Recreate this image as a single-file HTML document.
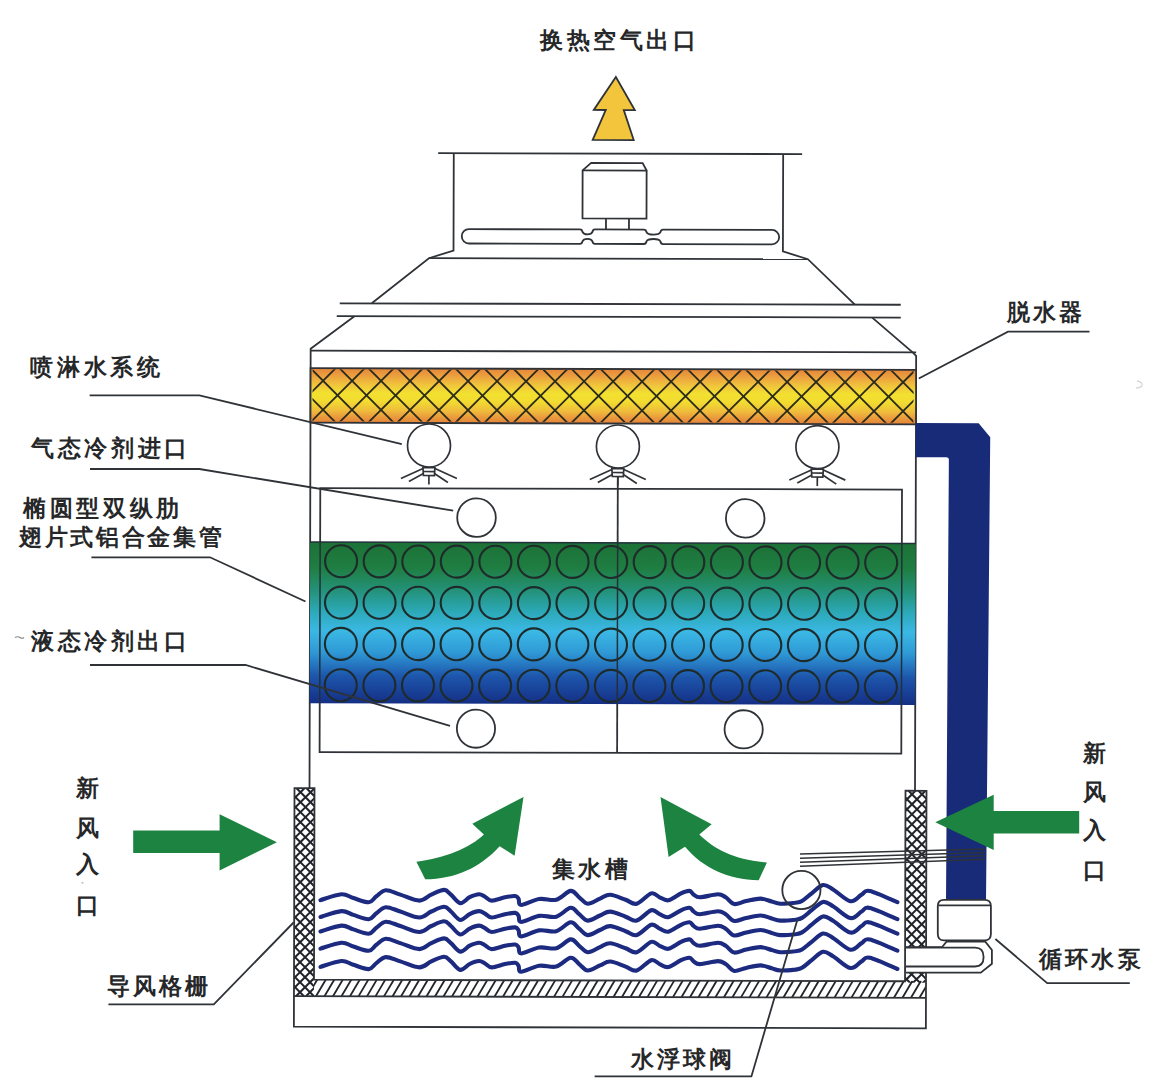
<!DOCTYPE html>
<html><head><meta charset="utf-8"><style>
html,body{margin:0;padding:0;background:#fff;}
svg{display:block;}
text{font-family:"Liberation Sans",sans-serif;}
</style></head><body>
<svg width="1173" height="1092" viewBox="0 0 1173 1092">
<rect width="1173" height="1092" fill="#fff"/>
<defs>
<linearGradient id="gy" x1="0" y1="0" x2="0" y2="1">
 <stop offset="0" stop-color="#e5873a"/>
 <stop offset="0.12" stop-color="#eb9c3e"/>
 <stop offset="0.3" stop-color="#f0c43c"/>
 <stop offset="0.45" stop-color="#f2e030"/>
 <stop offset="0.6" stop-color="#f2dc30"/>
 <stop offset="0.78" stop-color="#efbb3c"/>
 <stop offset="0.9" stop-color="#ea983c"/>
 <stop offset="1" stop-color="#e4843a"/>
</linearGradient>
<linearGradient id="gc" x1="0" y1="0" x2="0" y2="1">
 <stop offset="0" stop-color="#1c7136"/>
 <stop offset="0.16" stop-color="#1f7e42"/>
 <stop offset="0.3" stop-color="#24927a"/>
 <stop offset="0.43" stop-color="#2ca9b8"/>
 <stop offset="0.55" stop-color="#3bb8e4"/>
 <stop offset="0.68" stop-color="#2f9ad6"/>
 <stop offset="0.83" stop-color="#1d56ac"/>
 <stop offset="1" stop-color="#142f85"/>
</linearGradient>
<clipPath id="cyb"><rect x="312" y="370" width="601" height="52"/></clipPath>
<clipPath id="cgl"><rect x="295" y="789" width="20" height="208"/></clipPath>
<clipPath id="cgr"><rect x="906" y="790" width="21" height="192"/></clipPath>
<clipPath id="chb"><rect x="315" y="980" width="612" height="17"/></clipPath>
</defs>
<g transform="rotate(0.15 612 600)">
<polygon points="614.5,77 633.5,110 622.5,110 632.5,140 591.5,140 604.5,110 592.5,110" fill="#f2c53d" stroke="#2f3338" stroke-width="1.8" stroke-linejoin="miter"/>
<g fill="none" stroke="#2f3338" stroke-width="1.8">
<line x1="437" y1="153.6" x2="801" y2="153.6"/>
<polyline points="452.6,153.6 452.6,251 428,258.7 371,303.8"/><polyline points="353.7,316.9 310,349.5 310,789"/>
<polyline points="782,153.6 782,251 807,258.7 854.1,304"/><polyline points="871.5,316.9 912,351.5 915.5,355 915.5,790"/>
<line x1="428" y1="258.7" x2="807" y2="258.7"/>
<line x1="339" y1="304" x2="900" y2="304"/>
<line x1="336" y1="316.8" x2="900" y2="316.8"/>
<line x1="310" y1="351.5" x2="915.5" y2="351.5"/>
<path d="M581.5,218.5 V170.5 L590,163 H641.5 L645.5,170.5 V218.5 Z"/>
<line x1="581.5" y1="170.5" x2="646" y2="170.5"/>
<line x1="605" y1="218.5" x2="605" y2="229"/><line x1="628" y1="218.5" x2="628" y2="229"/>
<path d="M468,229.5 H579 Q581,229.5 581.5,232 Q582.5,234.5 586.5,234.5 Q590.5,234.5 591.5,232 Q592,229.5 594,229.5 H643 Q645,229.5 645.5,232 Q646.5,234.5 652.5,234.5 Q658.5,234.5 659.5,232 Q660,229.5 662,229.5 H771 A7.2,7.2 0 0 1 771,243.9 H662 Q660,243.9 659.5,241.4 Q658.5,238.9 652.5,238.9 Q646.5,238.9 645.5,241.4 Q645,243.9 643,243.9 H594 Q592,243.9 591.5,241.4 Q590.5,238.9 586.5,238.9 Q582.5,238.9 581.5,241.4 Q581,243.9 579,243.9 H468 A7.2,7.2 0 0 1 468,229.5 Z"/>
</g>
<rect x="310" y="369" width="605.5" height="54.5" fill="url(#gy)"/>
<g clip-path="url(#cyb)" stroke="#2b2a1c" stroke-width="1.8">
<line x1="-560" y1="369" x2="-505" y2="424"/>
<line x1="-506" y1="369" x2="-561" y2="424"/>
<line x1="-531" y1="369" x2="-476" y2="424"/>
<line x1="-477" y1="369" x2="-532" y2="424"/>
<line x1="-502" y1="369" x2="-447" y2="424"/>
<line x1="-448" y1="369" x2="-503" y2="424"/>
<line x1="-473" y1="369" x2="-418" y2="424"/>
<line x1="-419" y1="369" x2="-474" y2="424"/>
<line x1="-444" y1="369" x2="-389" y2="424"/>
<line x1="-390" y1="369" x2="-445" y2="424"/>
<line x1="-415" y1="369" x2="-360" y2="424"/>
<line x1="-361" y1="369" x2="-416" y2="424"/>
<line x1="-386" y1="369" x2="-331" y2="424"/>
<line x1="-332" y1="369" x2="-387" y2="424"/>
<line x1="-357" y1="369" x2="-302" y2="424"/>
<line x1="-303" y1="369" x2="-358" y2="424"/>
<line x1="-328" y1="369" x2="-273" y2="424"/>
<line x1="-274" y1="369" x2="-329" y2="424"/>
<line x1="-299" y1="369" x2="-244" y2="424"/>
<line x1="-245" y1="369" x2="-300" y2="424"/>
<line x1="-270" y1="369" x2="-215" y2="424"/>
<line x1="-216" y1="369" x2="-271" y2="424"/>
<line x1="-241" y1="369" x2="-186" y2="424"/>
<line x1="-187" y1="369" x2="-242" y2="424"/>
<line x1="-212" y1="369" x2="-157" y2="424"/>
<line x1="-158" y1="369" x2="-213" y2="424"/>
<line x1="-183" y1="369" x2="-128" y2="424"/>
<line x1="-129" y1="369" x2="-184" y2="424"/>
<line x1="-154" y1="369" x2="-99" y2="424"/>
<line x1="-100" y1="369" x2="-155" y2="424"/>
<line x1="-125" y1="369" x2="-70" y2="424"/>
<line x1="-71" y1="369" x2="-126" y2="424"/>
<line x1="-96" y1="369" x2="-41" y2="424"/>
<line x1="-42" y1="369" x2="-97" y2="424"/>
<line x1="-67" y1="369" x2="-12" y2="424"/>
<line x1="-13" y1="369" x2="-68" y2="424"/>
<line x1="-38" y1="369" x2="17" y2="424"/>
<line x1="16" y1="369" x2="-39" y2="424"/>
<line x1="-9" y1="369" x2="46" y2="424"/>
<line x1="45" y1="369" x2="-10" y2="424"/>
<line x1="20" y1="369" x2="75" y2="424"/>
<line x1="74" y1="369" x2="19" y2="424"/>
<line x1="49" y1="369" x2="104" y2="424"/>
<line x1="103" y1="369" x2="48" y2="424"/>
<line x1="78" y1="369" x2="133" y2="424"/>
<line x1="132" y1="369" x2="77" y2="424"/>
<line x1="107" y1="369" x2="162" y2="424"/>
<line x1="161" y1="369" x2="106" y2="424"/>
<line x1="136" y1="369" x2="191" y2="424"/>
<line x1="190" y1="369" x2="135" y2="424"/>
<line x1="165" y1="369" x2="220" y2="424"/>
<line x1="219" y1="369" x2="164" y2="424"/>
<line x1="194" y1="369" x2="249" y2="424"/>
<line x1="248" y1="369" x2="193" y2="424"/>
<line x1="223" y1="369" x2="278" y2="424"/>
<line x1="277" y1="369" x2="222" y2="424"/>
<line x1="252" y1="369" x2="307" y2="424"/>
<line x1="306" y1="369" x2="251" y2="424"/>
<line x1="281" y1="369" x2="336" y2="424"/>
<line x1="335" y1="369" x2="280" y2="424"/>
<line x1="310" y1="369" x2="365" y2="424"/>
<line x1="364" y1="369" x2="309" y2="424"/>
<line x1="339" y1="369" x2="394" y2="424"/>
<line x1="393" y1="369" x2="338" y2="424"/>
<line x1="368" y1="369" x2="423" y2="424"/>
<line x1="422" y1="369" x2="367" y2="424"/>
<line x1="397" y1="369" x2="452" y2="424"/>
<line x1="451" y1="369" x2="396" y2="424"/>
<line x1="426" y1="369" x2="481" y2="424"/>
<line x1="480" y1="369" x2="425" y2="424"/>
<line x1="455" y1="369" x2="510" y2="424"/>
<line x1="509" y1="369" x2="454" y2="424"/>
<line x1="484" y1="369" x2="539" y2="424"/>
<line x1="538" y1="369" x2="483" y2="424"/>
<line x1="513" y1="369" x2="568" y2="424"/>
<line x1="567" y1="369" x2="512" y2="424"/>
<line x1="542" y1="369" x2="597" y2="424"/>
<line x1="596" y1="369" x2="541" y2="424"/>
<line x1="571" y1="369" x2="626" y2="424"/>
<line x1="625" y1="369" x2="570" y2="424"/>
<line x1="600" y1="369" x2="655" y2="424"/>
<line x1="654" y1="369" x2="599" y2="424"/>
<line x1="629" y1="369" x2="684" y2="424"/>
<line x1="683" y1="369" x2="628" y2="424"/>
<line x1="658" y1="369" x2="713" y2="424"/>
<line x1="712" y1="369" x2="657" y2="424"/>
<line x1="687" y1="369" x2="742" y2="424"/>
<line x1="741" y1="369" x2="686" y2="424"/>
<line x1="716" y1="369" x2="771" y2="424"/>
<line x1="770" y1="369" x2="715" y2="424"/>
<line x1="745" y1="369" x2="800" y2="424"/>
<line x1="799" y1="369" x2="744" y2="424"/>
<line x1="774" y1="369" x2="829" y2="424"/>
<line x1="828" y1="369" x2="773" y2="424"/>
<line x1="803" y1="369" x2="858" y2="424"/>
<line x1="857" y1="369" x2="802" y2="424"/>
<line x1="832" y1="369" x2="887" y2="424"/>
<line x1="886" y1="369" x2="831" y2="424"/>
<line x1="861" y1="369" x2="916" y2="424"/>
<line x1="915" y1="369" x2="860" y2="424"/>
<line x1="890" y1="369" x2="945" y2="424"/>
<line x1="944" y1="369" x2="889" y2="424"/>
<line x1="919" y1="369" x2="974" y2="424"/>
<line x1="973" y1="369" x2="918" y2="424"/>
<line x1="948" y1="369" x2="1003" y2="424"/>
<line x1="1002" y1="369" x2="947" y2="424"/>
<line x1="977" y1="369" x2="1032" y2="424"/>
<line x1="1031" y1="369" x2="976" y2="424"/>
<line x1="1006" y1="369" x2="1061" y2="424"/>
<line x1="1060" y1="369" x2="1005" y2="424"/>
<line x1="1035" y1="369" x2="1090" y2="424"/>
<line x1="1089" y1="369" x2="1034" y2="424"/>
<line x1="1064" y1="369" x2="1119" y2="424"/>
<line x1="1118" y1="369" x2="1063" y2="424"/>
<line x1="1093" y1="369" x2="1148" y2="424"/>
<line x1="1147" y1="369" x2="1092" y2="424"/>
<line x1="1122" y1="369" x2="1177" y2="424"/>
<line x1="1176" y1="369" x2="1121" y2="424"/>
<line x1="1151" y1="369" x2="1206" y2="424"/>
<line x1="1205" y1="369" x2="1150" y2="424"/>
<line x1="1180" y1="369" x2="1235" y2="424"/>
<line x1="1234" y1="369" x2="1179" y2="424"/>
<line x1="1209" y1="369" x2="1264" y2="424"/>
<line x1="1263" y1="369" x2="1208" y2="424"/>
<line x1="1238" y1="369" x2="1293" y2="424"/>
<line x1="1292" y1="369" x2="1237" y2="424"/>
<line x1="1267" y1="369" x2="1322" y2="424"/>
<line x1="1321" y1="369" x2="1266" y2="424"/>
<line x1="1296" y1="369" x2="1351" y2="424"/>
<line x1="1350" y1="369" x2="1295" y2="424"/>
<line x1="1325" y1="369" x2="1380" y2="424"/>
<line x1="1379" y1="369" x2="1324" y2="424"/>
<line x1="1354" y1="369" x2="1409" y2="424"/>
<line x1="1408" y1="369" x2="1353" y2="424"/>
<line x1="1383" y1="369" x2="1438" y2="424"/>
<line x1="1437" y1="369" x2="1382" y2="424"/>
<line x1="1412" y1="369" x2="1467" y2="424"/>
<line x1="1466" y1="369" x2="1411" y2="424"/>
<line x1="1441" y1="369" x2="1496" y2="424"/>
<line x1="1495" y1="369" x2="1440" y2="424"/>
</g>
<rect x="310" y="369" width="605.5" height="54.5" fill="none" stroke="#2f3338" stroke-width="1.8"/>
<g fill="none" stroke="#2f3338" stroke-width="1.7"><circle cx="428.6" cy="446" r="21.5" fill="#fff"/><path d="M422.6,468 L434.6,468 L434.1,476 L423.1,476 Z"/><line x1="423.1" y1="472" x2="434.1" y2="472"/><line x1="422.6" y1="469" x2="400.6" y2="479"/><line x1="423.1" y1="474" x2="408.6" y2="482"/><line x1="434.6" y1="469" x2="456.6" y2="479"/><line x1="434.1" y1="474" x2="447.6" y2="483"/><line x1="428.6" y1="476" x2="428.6" y2="485"/></g>
<g fill="none" stroke="#2f3338" stroke-width="1.7"><circle cx="617.5" cy="446.5" r="21.5" fill="#fff"/><path d="M611.5,468.5 L623.5,468.5 L623.0,476.5 L612.0,476.5 Z"/><line x1="612.0" y1="472.5" x2="623.0" y2="472.5"/><line x1="611.5" y1="469.5" x2="589.5" y2="479.5"/><line x1="612.0" y1="474.5" x2="597.5" y2="482.5"/><line x1="623.5" y1="469.5" x2="645.5" y2="479.5"/><line x1="623.0" y1="474.5" x2="636.5" y2="483.5"/><line x1="617.5" y1="476.5" x2="617.5" y2="485.5"/></g>
<g fill="none" stroke="#2f3338" stroke-width="1.7"><circle cx="817" cy="446.5" r="21.5" fill="#fff"/><path d="M811,468.5 L823,468.5 L822.5,476.5 L811.5,476.5 Z"/><line x1="811.5" y1="472.5" x2="822.5" y2="472.5"/><line x1="811" y1="469.5" x2="789" y2="479.5"/><line x1="811.5" y1="474.5" x2="797" y2="482.5"/><line x1="823" y1="469.5" x2="845" y2="479.5"/><line x1="822.5" y1="474.5" x2="836" y2="483.5"/><line x1="817" y1="476.5" x2="817" y2="485.5"/></g>
<g fill="none" stroke="#2f3338" stroke-width="1.8">
<rect x="320" y="488.8" width="581.7" height="264"/>
<line x1="617.5" y1="476" x2="617.5" y2="752.8"/>
<circle cx="476.3" cy="518" r="19.3"/>
<circle cx="476.3" cy="729" r="19.1"/>
<circle cx="745" cy="518" r="19.3"/>
<circle cx="744" cy="729" r="19.1"/>
</g>
<rect x="310" y="542.8" width="605.5" height="161.3" fill="url(#gc)"/>
<g fill="none" stroke="#1e2b2a" stroke-width="2.1">
<circle cx="341.0" cy="562.0" r="16"/>
<circle cx="379.6" cy="562.0" r="16"/>
<circle cx="418.2" cy="562.0" r="16"/>
<circle cx="456.7" cy="562.0" r="16"/>
<circle cx="495.3" cy="562.0" r="16"/>
<circle cx="533.9" cy="562.0" r="16"/>
<circle cx="572.5" cy="562.0" r="16"/>
<circle cx="611.1" cy="562.0" r="16"/>
<circle cx="649.6" cy="562.0" r="16"/>
<circle cx="688.2" cy="562.0" r="16"/>
<circle cx="726.8" cy="562.0" r="16"/>
<circle cx="765.4" cy="562.0" r="16"/>
<circle cx="804.0" cy="562.0" r="16"/>
<circle cx="842.5" cy="562.0" r="16"/>
<circle cx="881.1" cy="562.0" r="16"/>
<circle cx="341.0" cy="603.3" r="16"/>
<circle cx="379.6" cy="603.3" r="16"/>
<circle cx="418.2" cy="603.3" r="16"/>
<circle cx="456.7" cy="603.3" r="16"/>
<circle cx="495.3" cy="603.3" r="16"/>
<circle cx="533.9" cy="603.3" r="16"/>
<circle cx="572.5" cy="603.3" r="16"/>
<circle cx="611.1" cy="603.3" r="16"/>
<circle cx="649.6" cy="603.3" r="16"/>
<circle cx="688.2" cy="603.3" r="16"/>
<circle cx="726.8" cy="603.3" r="16"/>
<circle cx="765.4" cy="603.3" r="16"/>
<circle cx="804.0" cy="603.3" r="16"/>
<circle cx="842.5" cy="603.3" r="16"/>
<circle cx="881.1" cy="603.3" r="16"/>
<circle cx="341.0" cy="644.6" r="16"/>
<circle cx="379.6" cy="644.6" r="16"/>
<circle cx="418.2" cy="644.6" r="16"/>
<circle cx="456.7" cy="644.6" r="16"/>
<circle cx="495.3" cy="644.6" r="16"/>
<circle cx="533.9" cy="644.6" r="16"/>
<circle cx="572.5" cy="644.6" r="16"/>
<circle cx="611.1" cy="644.6" r="16"/>
<circle cx="649.6" cy="644.6" r="16"/>
<circle cx="688.2" cy="644.6" r="16"/>
<circle cx="726.8" cy="644.6" r="16"/>
<circle cx="765.4" cy="644.6" r="16"/>
<circle cx="804.0" cy="644.6" r="16"/>
<circle cx="842.5" cy="644.6" r="16"/>
<circle cx="881.1" cy="644.6" r="16"/>
<circle cx="341.0" cy="685.9" r="16"/>
<circle cx="379.6" cy="685.9" r="16"/>
<circle cx="418.2" cy="685.9" r="16"/>
<circle cx="456.7" cy="685.9" r="16"/>
<circle cx="495.3" cy="685.9" r="16"/>
<circle cx="533.9" cy="685.9" r="16"/>
<circle cx="572.5" cy="685.9" r="16"/>
<circle cx="611.1" cy="685.9" r="16"/>
<circle cx="649.6" cy="685.9" r="16"/>
<circle cx="688.2" cy="685.9" r="16"/>
<circle cx="726.8" cy="685.9" r="16"/>
<circle cx="765.4" cy="685.9" r="16"/>
<circle cx="804.0" cy="685.9" r="16"/>
<circle cx="842.5" cy="685.9" r="16"/>
<circle cx="881.1" cy="685.9" r="16"/>
</g>
<g fill="none" stroke="#22303a" stroke-width="1.5">
<line x1="320" y1="542.8" x2="320" y2="704"/><line x1="901.7" y1="542.8" x2="901.7" y2="704"/><line x1="617.5" y1="542.8" x2="617.5" y2="704"/>
<line x1="310" y1="542.8" x2="915.5" y2="542.8"/>
</g>
<path d="M915.5,422.3 H978.2 L989.8,436.3 L986.8,899.3 H946.8 L948.5,459 Q948.5,456.4 945.9,456.4 H915.5 Z" fill="#172b78"/>
<rect x="295" y="789" width="20" height="208" fill="#fff"/>
<rect x="906" y="790" width="21" height="207" fill="#fff"/>
<g clip-path="url(#cgl)" stroke="#20242a" stroke-width="2.0"><line x1="-513" y1="789" x2="-305" y2="997"/><line x1="-305" y1="789" x2="-513" y2="997"/><line x1="-503" y1="789" x2="-295" y2="997"/><line x1="-295" y1="789" x2="-503" y2="997"/><line x1="-493" y1="789" x2="-285" y2="997"/><line x1="-285" y1="789" x2="-493" y2="997"/><line x1="-483" y1="789" x2="-275" y2="997"/><line x1="-275" y1="789" x2="-483" y2="997"/><line x1="-473" y1="789" x2="-265" y2="997"/><line x1="-265" y1="789" x2="-473" y2="997"/><line x1="-463" y1="789" x2="-255" y2="997"/><line x1="-255" y1="789" x2="-463" y2="997"/><line x1="-453" y1="789" x2="-245" y2="997"/><line x1="-245" y1="789" x2="-453" y2="997"/><line x1="-443" y1="789" x2="-235" y2="997"/><line x1="-235" y1="789" x2="-443" y2="997"/><line x1="-433" y1="789" x2="-225" y2="997"/><line x1="-225" y1="789" x2="-433" y2="997"/><line x1="-423" y1="789" x2="-215" y2="997"/><line x1="-215" y1="789" x2="-423" y2="997"/><line x1="-413" y1="789" x2="-205" y2="997"/><line x1="-205" y1="789" x2="-413" y2="997"/><line x1="-403" y1="789" x2="-195" y2="997"/><line x1="-195" y1="789" x2="-403" y2="997"/><line x1="-393" y1="789" x2="-185" y2="997"/><line x1="-185" y1="789" x2="-393" y2="997"/><line x1="-383" y1="789" x2="-175" y2="997"/><line x1="-175" y1="789" x2="-383" y2="997"/><line x1="-373" y1="789" x2="-165" y2="997"/><line x1="-165" y1="789" x2="-373" y2="997"/><line x1="-363" y1="789" x2="-155" y2="997"/><line x1="-155" y1="789" x2="-363" y2="997"/><line x1="-353" y1="789" x2="-145" y2="997"/><line x1="-145" y1="789" x2="-353" y2="997"/><line x1="-343" y1="789" x2="-135" y2="997"/><line x1="-135" y1="789" x2="-343" y2="997"/><line x1="-333" y1="789" x2="-125" y2="997"/><line x1="-125" y1="789" x2="-333" y2="997"/><line x1="-323" y1="789" x2="-115" y2="997"/><line x1="-115" y1="789" x2="-323" y2="997"/><line x1="-313" y1="789" x2="-105" y2="997"/><line x1="-105" y1="789" x2="-313" y2="997"/><line x1="-303" y1="789" x2="-95" y2="997"/><line x1="-95" y1="789" x2="-303" y2="997"/><line x1="-293" y1="789" x2="-85" y2="997"/><line x1="-85" y1="789" x2="-293" y2="997"/><line x1="-283" y1="789" x2="-75" y2="997"/><line x1="-75" y1="789" x2="-283" y2="997"/><line x1="-273" y1="789" x2="-65" y2="997"/><line x1="-65" y1="789" x2="-273" y2="997"/><line x1="-263" y1="789" x2="-55" y2="997"/><line x1="-55" y1="789" x2="-263" y2="997"/><line x1="-253" y1="789" x2="-45" y2="997"/><line x1="-45" y1="789" x2="-253" y2="997"/><line x1="-243" y1="789" x2="-35" y2="997"/><line x1="-35" y1="789" x2="-243" y2="997"/><line x1="-233" y1="789" x2="-25" y2="997"/><line x1="-25" y1="789" x2="-233" y2="997"/><line x1="-223" y1="789" x2="-15" y2="997"/><line x1="-15" y1="789" x2="-223" y2="997"/><line x1="-213" y1="789" x2="-5" y2="997"/><line x1="-5" y1="789" x2="-213" y2="997"/><line x1="-203" y1="789" x2="5" y2="997"/><line x1="5" y1="789" x2="-203" y2="997"/><line x1="-193" y1="789" x2="15" y2="997"/><line x1="15" y1="789" x2="-193" y2="997"/><line x1="-183" y1="789" x2="25" y2="997"/><line x1="25" y1="789" x2="-183" y2="997"/><line x1="-173" y1="789" x2="35" y2="997"/><line x1="35" y1="789" x2="-173" y2="997"/><line x1="-163" y1="789" x2="45" y2="997"/><line x1="45" y1="789" x2="-163" y2="997"/><line x1="-153" y1="789" x2="55" y2="997"/><line x1="55" y1="789" x2="-153" y2="997"/><line x1="-143" y1="789" x2="65" y2="997"/><line x1="65" y1="789" x2="-143" y2="997"/><line x1="-133" y1="789" x2="75" y2="997"/><line x1="75" y1="789" x2="-133" y2="997"/><line x1="-123" y1="789" x2="85" y2="997"/><line x1="85" y1="789" x2="-123" y2="997"/><line x1="-113" y1="789" x2="95" y2="997"/><line x1="95" y1="789" x2="-113" y2="997"/><line x1="-103" y1="789" x2="105" y2="997"/><line x1="105" y1="789" x2="-103" y2="997"/><line x1="-93" y1="789" x2="115" y2="997"/><line x1="115" y1="789" x2="-93" y2="997"/><line x1="-83" y1="789" x2="125" y2="997"/><line x1="125" y1="789" x2="-83" y2="997"/><line x1="-73" y1="789" x2="135" y2="997"/><line x1="135" y1="789" x2="-73" y2="997"/><line x1="-63" y1="789" x2="145" y2="997"/><line x1="145" y1="789" x2="-63" y2="997"/><line x1="-53" y1="789" x2="155" y2="997"/><line x1="155" y1="789" x2="-53" y2="997"/><line x1="-43" y1="789" x2="165" y2="997"/><line x1="165" y1="789" x2="-43" y2="997"/><line x1="-33" y1="789" x2="175" y2="997"/><line x1="175" y1="789" x2="-33" y2="997"/><line x1="-23" y1="789" x2="185" y2="997"/><line x1="185" y1="789" x2="-23" y2="997"/><line x1="-13" y1="789" x2="195" y2="997"/><line x1="195" y1="789" x2="-13" y2="997"/><line x1="-3" y1="789" x2="205" y2="997"/><line x1="205" y1="789" x2="-3" y2="997"/><line x1="7" y1="789" x2="215" y2="997"/><line x1="215" y1="789" x2="7" y2="997"/><line x1="17" y1="789" x2="225" y2="997"/><line x1="225" y1="789" x2="17" y2="997"/><line x1="27" y1="789" x2="235" y2="997"/><line x1="235" y1="789" x2="27" y2="997"/><line x1="37" y1="789" x2="245" y2="997"/><line x1="245" y1="789" x2="37" y2="997"/><line x1="47" y1="789" x2="255" y2="997"/><line x1="255" y1="789" x2="47" y2="997"/><line x1="57" y1="789" x2="265" y2="997"/><line x1="265" y1="789" x2="57" y2="997"/><line x1="67" y1="789" x2="275" y2="997"/><line x1="275" y1="789" x2="67" y2="997"/><line x1="77" y1="789" x2="285" y2="997"/><line x1="285" y1="789" x2="77" y2="997"/><line x1="87" y1="789" x2="295" y2="997"/><line x1="295" y1="789" x2="87" y2="997"/><line x1="97" y1="789" x2="305" y2="997"/><line x1="305" y1="789" x2="97" y2="997"/><line x1="107" y1="789" x2="315" y2="997"/><line x1="315" y1="789" x2="107" y2="997"/><line x1="117" y1="789" x2="325" y2="997"/><line x1="325" y1="789" x2="117" y2="997"/><line x1="127" y1="789" x2="335" y2="997"/><line x1="335" y1="789" x2="127" y2="997"/><line x1="137" y1="789" x2="345" y2="997"/><line x1="345" y1="789" x2="137" y2="997"/><line x1="147" y1="789" x2="355" y2="997"/><line x1="355" y1="789" x2="147" y2="997"/><line x1="157" y1="789" x2="365" y2="997"/><line x1="365" y1="789" x2="157" y2="997"/><line x1="167" y1="789" x2="375" y2="997"/><line x1="375" y1="789" x2="167" y2="997"/><line x1="177" y1="789" x2="385" y2="997"/><line x1="385" y1="789" x2="177" y2="997"/><line x1="187" y1="789" x2="395" y2="997"/><line x1="395" y1="789" x2="187" y2="997"/><line x1="197" y1="789" x2="405" y2="997"/><line x1="405" y1="789" x2="197" y2="997"/><line x1="207" y1="789" x2="415" y2="997"/><line x1="415" y1="789" x2="207" y2="997"/><line x1="217" y1="789" x2="425" y2="997"/><line x1="425" y1="789" x2="217" y2="997"/><line x1="227" y1="789" x2="435" y2="997"/><line x1="435" y1="789" x2="227" y2="997"/><line x1="237" y1="789" x2="445" y2="997"/><line x1="445" y1="789" x2="237" y2="997"/><line x1="247" y1="789" x2="455" y2="997"/><line x1="455" y1="789" x2="247" y2="997"/><line x1="257" y1="789" x2="465" y2="997"/><line x1="465" y1="789" x2="257" y2="997"/><line x1="267" y1="789" x2="475" y2="997"/><line x1="475" y1="789" x2="267" y2="997"/><line x1="277" y1="789" x2="485" y2="997"/><line x1="485" y1="789" x2="277" y2="997"/><line x1="287" y1="789" x2="495" y2="997"/><line x1="495" y1="789" x2="287" y2="997"/><line x1="297" y1="789" x2="505" y2="997"/><line x1="505" y1="789" x2="297" y2="997"/><line x1="307" y1="789" x2="515" y2="997"/><line x1="515" y1="789" x2="307" y2="997"/><line x1="317" y1="789" x2="525" y2="997"/><line x1="525" y1="789" x2="317" y2="997"/><line x1="327" y1="789" x2="535" y2="997"/><line x1="535" y1="789" x2="327" y2="997"/><line x1="337" y1="789" x2="545" y2="997"/><line x1="545" y1="789" x2="337" y2="997"/><line x1="347" y1="789" x2="555" y2="997"/><line x1="555" y1="789" x2="347" y2="997"/><line x1="357" y1="789" x2="565" y2="997"/><line x1="565" y1="789" x2="357" y2="997"/><line x1="367" y1="789" x2="575" y2="997"/><line x1="575" y1="789" x2="367" y2="997"/><line x1="377" y1="789" x2="585" y2="997"/><line x1="585" y1="789" x2="377" y2="997"/><line x1="387" y1="789" x2="595" y2="997"/><line x1="595" y1="789" x2="387" y2="997"/><line x1="397" y1="789" x2="605" y2="997"/><line x1="605" y1="789" x2="397" y2="997"/><line x1="407" y1="789" x2="615" y2="997"/><line x1="615" y1="789" x2="407" y2="997"/><line x1="417" y1="789" x2="625" y2="997"/><line x1="625" y1="789" x2="417" y2="997"/><line x1="427" y1="789" x2="635" y2="997"/><line x1="635" y1="789" x2="427" y2="997"/><line x1="437" y1="789" x2="645" y2="997"/><line x1="645" y1="789" x2="437" y2="997"/><line x1="447" y1="789" x2="655" y2="997"/><line x1="655" y1="789" x2="447" y2="997"/><line x1="457" y1="789" x2="665" y2="997"/><line x1="665" y1="789" x2="457" y2="997"/><line x1="467" y1="789" x2="675" y2="997"/><line x1="675" y1="789" x2="467" y2="997"/><line x1="477" y1="789" x2="685" y2="997"/><line x1="685" y1="789" x2="477" y2="997"/><line x1="487" y1="789" x2="695" y2="997"/><line x1="695" y1="789" x2="487" y2="997"/><line x1="497" y1="789" x2="705" y2="997"/><line x1="705" y1="789" x2="497" y2="997"/><line x1="507" y1="789" x2="715" y2="997"/><line x1="715" y1="789" x2="507" y2="997"/><line x1="517" y1="789" x2="725" y2="997"/><line x1="725" y1="789" x2="517" y2="997"/><line x1="527" y1="789" x2="735" y2="997"/><line x1="735" y1="789" x2="527" y2="997"/><line x1="537" y1="789" x2="745" y2="997"/><line x1="745" y1="789" x2="537" y2="997"/><line x1="547" y1="789" x2="755" y2="997"/><line x1="755" y1="789" x2="547" y2="997"/><line x1="557" y1="789" x2="765" y2="997"/><line x1="765" y1="789" x2="557" y2="997"/><line x1="567" y1="789" x2="775" y2="997"/><line x1="775" y1="789" x2="567" y2="997"/><line x1="577" y1="789" x2="785" y2="997"/><line x1="785" y1="789" x2="577" y2="997"/><line x1="587" y1="789" x2="795" y2="997"/><line x1="795" y1="789" x2="587" y2="997"/><line x1="597" y1="789" x2="805" y2="997"/><line x1="805" y1="789" x2="597" y2="997"/><line x1="607" y1="789" x2="815" y2="997"/><line x1="815" y1="789" x2="607" y2="997"/><line x1="617" y1="789" x2="825" y2="997"/><line x1="825" y1="789" x2="617" y2="997"/><line x1="627" y1="789" x2="835" y2="997"/><line x1="835" y1="789" x2="627" y2="997"/><line x1="637" y1="789" x2="845" y2="997"/><line x1="845" y1="789" x2="637" y2="997"/><line x1="647" y1="789" x2="855" y2="997"/><line x1="855" y1="789" x2="647" y2="997"/><line x1="657" y1="789" x2="865" y2="997"/><line x1="865" y1="789" x2="657" y2="997"/><line x1="667" y1="789" x2="875" y2="997"/><line x1="875" y1="789" x2="667" y2="997"/><line x1="677" y1="789" x2="885" y2="997"/><line x1="885" y1="789" x2="677" y2="997"/><line x1="687" y1="789" x2="895" y2="997"/><line x1="895" y1="789" x2="687" y2="997"/><line x1="697" y1="789" x2="905" y2="997"/><line x1="905" y1="789" x2="697" y2="997"/><line x1="707" y1="789" x2="915" y2="997"/><line x1="915" y1="789" x2="707" y2="997"/><line x1="717" y1="789" x2="925" y2="997"/><line x1="925" y1="789" x2="717" y2="997"/><line x1="727" y1="789" x2="935" y2="997"/><line x1="935" y1="789" x2="727" y2="997"/><line x1="737" y1="789" x2="945" y2="997"/><line x1="945" y1="789" x2="737" y2="997"/><line x1="747" y1="789" x2="955" y2="997"/><line x1="955" y1="789" x2="747" y2="997"/><line x1="757" y1="789" x2="965" y2="997"/><line x1="965" y1="789" x2="757" y2="997"/><line x1="767" y1="789" x2="975" y2="997"/><line x1="975" y1="789" x2="767" y2="997"/><line x1="777" y1="789" x2="985" y2="997"/><line x1="985" y1="789" x2="777" y2="997"/><line x1="787" y1="789" x2="995" y2="997"/><line x1="995" y1="789" x2="787" y2="997"/><line x1="797" y1="789" x2="1005" y2="997"/><line x1="1005" y1="789" x2="797" y2="997"/><line x1="807" y1="789" x2="1015" y2="997"/><line x1="1015" y1="789" x2="807" y2="997"/><line x1="817" y1="789" x2="1025" y2="997"/><line x1="1025" y1="789" x2="817" y2="997"/><line x1="827" y1="789" x2="1035" y2="997"/><line x1="1035" y1="789" x2="827" y2="997"/><line x1="837" y1="789" x2="1045" y2="997"/><line x1="1045" y1="789" x2="837" y2="997"/><line x1="847" y1="789" x2="1055" y2="997"/><line x1="1055" y1="789" x2="847" y2="997"/><line x1="857" y1="789" x2="1065" y2="997"/><line x1="1065" y1="789" x2="857" y2="997"/><line x1="867" y1="789" x2="1075" y2="997"/><line x1="1075" y1="789" x2="867" y2="997"/><line x1="877" y1="789" x2="1085" y2="997"/><line x1="1085" y1="789" x2="877" y2="997"/><line x1="887" y1="789" x2="1095" y2="997"/><line x1="1095" y1="789" x2="887" y2="997"/><line x1="897" y1="789" x2="1105" y2="997"/><line x1="1105" y1="789" x2="897" y2="997"/><line x1="907" y1="789" x2="1115" y2="997"/><line x1="1115" y1="789" x2="907" y2="997"/><line x1="917" y1="789" x2="1125" y2="997"/><line x1="1125" y1="789" x2="917" y2="997"/><line x1="927" y1="789" x2="1135" y2="997"/><line x1="1135" y1="789" x2="927" y2="997"/><line x1="937" y1="789" x2="1145" y2="997"/><line x1="1145" y1="789" x2="937" y2="997"/><line x1="947" y1="789" x2="1155" y2="997"/><line x1="1155" y1="789" x2="947" y2="997"/><line x1="957" y1="789" x2="1165" y2="997"/><line x1="1165" y1="789" x2="957" y2="997"/><line x1="967" y1="789" x2="1175" y2="997"/><line x1="1175" y1="789" x2="967" y2="997"/><line x1="977" y1="789" x2="1185" y2="997"/><line x1="1185" y1="789" x2="977" y2="997"/><line x1="987" y1="789" x2="1195" y2="997"/><line x1="1195" y1="789" x2="987" y2="997"/><line x1="997" y1="789" x2="1205" y2="997"/><line x1="1205" y1="789" x2="997" y2="997"/><line x1="1007" y1="789" x2="1215" y2="997"/><line x1="1215" y1="789" x2="1007" y2="997"/><line x1="1017" y1="789" x2="1225" y2="997"/><line x1="1225" y1="789" x2="1017" y2="997"/><line x1="1027" y1="789" x2="1235" y2="997"/><line x1="1235" y1="789" x2="1027" y2="997"/><line x1="1037" y1="789" x2="1245" y2="997"/><line x1="1245" y1="789" x2="1037" y2="997"/><line x1="1047" y1="789" x2="1255" y2="997"/><line x1="1255" y1="789" x2="1047" y2="997"/><line x1="1057" y1="789" x2="1265" y2="997"/><line x1="1265" y1="789" x2="1057" y2="997"/><line x1="1067" y1="789" x2="1275" y2="997"/><line x1="1275" y1="789" x2="1067" y2="997"/><line x1="1077" y1="789" x2="1285" y2="997"/><line x1="1285" y1="789" x2="1077" y2="997"/><line x1="1087" y1="789" x2="1295" y2="997"/><line x1="1295" y1="789" x2="1087" y2="997"/><line x1="1097" y1="789" x2="1305" y2="997"/><line x1="1305" y1="789" x2="1097" y2="997"/><line x1="1107" y1="789" x2="1315" y2="997"/><line x1="1315" y1="789" x2="1107" y2="997"/><line x1="1117" y1="789" x2="1325" y2="997"/><line x1="1325" y1="789" x2="1117" y2="997"/><line x1="1127" y1="789" x2="1335" y2="997"/><line x1="1335" y1="789" x2="1127" y2="997"/><line x1="1137" y1="789" x2="1345" y2="997"/><line x1="1345" y1="789" x2="1137" y2="997"/><line x1="1147" y1="789" x2="1355" y2="997"/><line x1="1355" y1="789" x2="1147" y2="997"/><line x1="1157" y1="789" x2="1365" y2="997"/><line x1="1365" y1="789" x2="1157" y2="997"/><line x1="1167" y1="789" x2="1375" y2="997"/><line x1="1375" y1="789" x2="1167" y2="997"/><line x1="1177" y1="789" x2="1385" y2="997"/><line x1="1385" y1="789" x2="1177" y2="997"/><line x1="1187" y1="789" x2="1395" y2="997"/><line x1="1395" y1="789" x2="1187" y2="997"/><line x1="1197" y1="789" x2="1405" y2="997"/><line x1="1405" y1="789" x2="1197" y2="997"/><line x1="1207" y1="789" x2="1415" y2="997"/><line x1="1415" y1="789" x2="1207" y2="997"/><line x1="1217" y1="789" x2="1425" y2="997"/><line x1="1425" y1="789" x2="1217" y2="997"/><line x1="1227" y1="789" x2="1435" y2="997"/><line x1="1435" y1="789" x2="1227" y2="997"/><line x1="1237" y1="789" x2="1445" y2="997"/><line x1="1445" y1="789" x2="1237" y2="997"/><line x1="1247" y1="789" x2="1455" y2="997"/><line x1="1455" y1="789" x2="1247" y2="997"/><line x1="1257" y1="789" x2="1465" y2="997"/><line x1="1465" y1="789" x2="1257" y2="997"/><line x1="1267" y1="789" x2="1475" y2="997"/><line x1="1475" y1="789" x2="1267" y2="997"/><line x1="1277" y1="789" x2="1485" y2="997"/><line x1="1485" y1="789" x2="1277" y2="997"/></g>
<g clip-path="url(#cgr)" stroke="#20242a" stroke-width="2.0"><line x1="99" y1="790" x2="306" y2="997"/><line x1="306" y1="790" x2="99" y2="997"/><line x1="109" y1="790" x2="316" y2="997"/><line x1="316" y1="790" x2="109" y2="997"/><line x1="119" y1="790" x2="326" y2="997"/><line x1="326" y1="790" x2="119" y2="997"/><line x1="129" y1="790" x2="336" y2="997"/><line x1="336" y1="790" x2="129" y2="997"/><line x1="139" y1="790" x2="346" y2="997"/><line x1="346" y1="790" x2="139" y2="997"/><line x1="149" y1="790" x2="356" y2="997"/><line x1="356" y1="790" x2="149" y2="997"/><line x1="159" y1="790" x2="366" y2="997"/><line x1="366" y1="790" x2="159" y2="997"/><line x1="169" y1="790" x2="376" y2="997"/><line x1="376" y1="790" x2="169" y2="997"/><line x1="179" y1="790" x2="386" y2="997"/><line x1="386" y1="790" x2="179" y2="997"/><line x1="189" y1="790" x2="396" y2="997"/><line x1="396" y1="790" x2="189" y2="997"/><line x1="199" y1="790" x2="406" y2="997"/><line x1="406" y1="790" x2="199" y2="997"/><line x1="209" y1="790" x2="416" y2="997"/><line x1="416" y1="790" x2="209" y2="997"/><line x1="219" y1="790" x2="426" y2="997"/><line x1="426" y1="790" x2="219" y2="997"/><line x1="229" y1="790" x2="436" y2="997"/><line x1="436" y1="790" x2="229" y2="997"/><line x1="239" y1="790" x2="446" y2="997"/><line x1="446" y1="790" x2="239" y2="997"/><line x1="249" y1="790" x2="456" y2="997"/><line x1="456" y1="790" x2="249" y2="997"/><line x1="259" y1="790" x2="466" y2="997"/><line x1="466" y1="790" x2="259" y2="997"/><line x1="269" y1="790" x2="476" y2="997"/><line x1="476" y1="790" x2="269" y2="997"/><line x1="279" y1="790" x2="486" y2="997"/><line x1="486" y1="790" x2="279" y2="997"/><line x1="289" y1="790" x2="496" y2="997"/><line x1="496" y1="790" x2="289" y2="997"/><line x1="299" y1="790" x2="506" y2="997"/><line x1="506" y1="790" x2="299" y2="997"/><line x1="309" y1="790" x2="516" y2="997"/><line x1="516" y1="790" x2="309" y2="997"/><line x1="319" y1="790" x2="526" y2="997"/><line x1="526" y1="790" x2="319" y2="997"/><line x1="329" y1="790" x2="536" y2="997"/><line x1="536" y1="790" x2="329" y2="997"/><line x1="339" y1="790" x2="546" y2="997"/><line x1="546" y1="790" x2="339" y2="997"/><line x1="349" y1="790" x2="556" y2="997"/><line x1="556" y1="790" x2="349" y2="997"/><line x1="359" y1="790" x2="566" y2="997"/><line x1="566" y1="790" x2="359" y2="997"/><line x1="369" y1="790" x2="576" y2="997"/><line x1="576" y1="790" x2="369" y2="997"/><line x1="379" y1="790" x2="586" y2="997"/><line x1="586" y1="790" x2="379" y2="997"/><line x1="389" y1="790" x2="596" y2="997"/><line x1="596" y1="790" x2="389" y2="997"/><line x1="399" y1="790" x2="606" y2="997"/><line x1="606" y1="790" x2="399" y2="997"/><line x1="409" y1="790" x2="616" y2="997"/><line x1="616" y1="790" x2="409" y2="997"/><line x1="419" y1="790" x2="626" y2="997"/><line x1="626" y1="790" x2="419" y2="997"/><line x1="429" y1="790" x2="636" y2="997"/><line x1="636" y1="790" x2="429" y2="997"/><line x1="439" y1="790" x2="646" y2="997"/><line x1="646" y1="790" x2="439" y2="997"/><line x1="449" y1="790" x2="656" y2="997"/><line x1="656" y1="790" x2="449" y2="997"/><line x1="459" y1="790" x2="666" y2="997"/><line x1="666" y1="790" x2="459" y2="997"/><line x1="469" y1="790" x2="676" y2="997"/><line x1="676" y1="790" x2="469" y2="997"/><line x1="479" y1="790" x2="686" y2="997"/><line x1="686" y1="790" x2="479" y2="997"/><line x1="489" y1="790" x2="696" y2="997"/><line x1="696" y1="790" x2="489" y2="997"/><line x1="499" y1="790" x2="706" y2="997"/><line x1="706" y1="790" x2="499" y2="997"/><line x1="509" y1="790" x2="716" y2="997"/><line x1="716" y1="790" x2="509" y2="997"/><line x1="519" y1="790" x2="726" y2="997"/><line x1="726" y1="790" x2="519" y2="997"/><line x1="529" y1="790" x2="736" y2="997"/><line x1="736" y1="790" x2="529" y2="997"/><line x1="539" y1="790" x2="746" y2="997"/><line x1="746" y1="790" x2="539" y2="997"/><line x1="549" y1="790" x2="756" y2="997"/><line x1="756" y1="790" x2="549" y2="997"/><line x1="559" y1="790" x2="766" y2="997"/><line x1="766" y1="790" x2="559" y2="997"/><line x1="569" y1="790" x2="776" y2="997"/><line x1="776" y1="790" x2="569" y2="997"/><line x1="579" y1="790" x2="786" y2="997"/><line x1="786" y1="790" x2="579" y2="997"/><line x1="589" y1="790" x2="796" y2="997"/><line x1="796" y1="790" x2="589" y2="997"/><line x1="599" y1="790" x2="806" y2="997"/><line x1="806" y1="790" x2="599" y2="997"/><line x1="609" y1="790" x2="816" y2="997"/><line x1="816" y1="790" x2="609" y2="997"/><line x1="619" y1="790" x2="826" y2="997"/><line x1="826" y1="790" x2="619" y2="997"/><line x1="629" y1="790" x2="836" y2="997"/><line x1="836" y1="790" x2="629" y2="997"/><line x1="639" y1="790" x2="846" y2="997"/><line x1="846" y1="790" x2="639" y2="997"/><line x1="649" y1="790" x2="856" y2="997"/><line x1="856" y1="790" x2="649" y2="997"/><line x1="659" y1="790" x2="866" y2="997"/><line x1="866" y1="790" x2="659" y2="997"/><line x1="669" y1="790" x2="876" y2="997"/><line x1="876" y1="790" x2="669" y2="997"/><line x1="679" y1="790" x2="886" y2="997"/><line x1="886" y1="790" x2="679" y2="997"/><line x1="689" y1="790" x2="896" y2="997"/><line x1="896" y1="790" x2="689" y2="997"/><line x1="699" y1="790" x2="906" y2="997"/><line x1="906" y1="790" x2="699" y2="997"/><line x1="709" y1="790" x2="916" y2="997"/><line x1="916" y1="790" x2="709" y2="997"/><line x1="719" y1="790" x2="926" y2="997"/><line x1="926" y1="790" x2="719" y2="997"/><line x1="729" y1="790" x2="936" y2="997"/><line x1="936" y1="790" x2="729" y2="997"/><line x1="739" y1="790" x2="946" y2="997"/><line x1="946" y1="790" x2="739" y2="997"/><line x1="749" y1="790" x2="956" y2="997"/><line x1="956" y1="790" x2="749" y2="997"/><line x1="759" y1="790" x2="966" y2="997"/><line x1="966" y1="790" x2="759" y2="997"/><line x1="769" y1="790" x2="976" y2="997"/><line x1="976" y1="790" x2="769" y2="997"/><line x1="779" y1="790" x2="986" y2="997"/><line x1="986" y1="790" x2="779" y2="997"/><line x1="789" y1="790" x2="996" y2="997"/><line x1="996" y1="790" x2="789" y2="997"/><line x1="799" y1="790" x2="1006" y2="997"/><line x1="1006" y1="790" x2="799" y2="997"/><line x1="809" y1="790" x2="1016" y2="997"/><line x1="1016" y1="790" x2="809" y2="997"/><line x1="819" y1="790" x2="1026" y2="997"/><line x1="1026" y1="790" x2="819" y2="997"/><line x1="829" y1="790" x2="1036" y2="997"/><line x1="1036" y1="790" x2="829" y2="997"/><line x1="839" y1="790" x2="1046" y2="997"/><line x1="1046" y1="790" x2="839" y2="997"/><line x1="849" y1="790" x2="1056" y2="997"/><line x1="1056" y1="790" x2="849" y2="997"/><line x1="859" y1="790" x2="1066" y2="997"/><line x1="1066" y1="790" x2="859" y2="997"/><line x1="869" y1="790" x2="1076" y2="997"/><line x1="1076" y1="790" x2="869" y2="997"/><line x1="879" y1="790" x2="1086" y2="997"/><line x1="1086" y1="790" x2="879" y2="997"/><line x1="889" y1="790" x2="1096" y2="997"/><line x1="1096" y1="790" x2="889" y2="997"/><line x1="899" y1="790" x2="1106" y2="997"/><line x1="1106" y1="790" x2="899" y2="997"/><line x1="909" y1="790" x2="1116" y2="997"/><line x1="1116" y1="790" x2="909" y2="997"/><line x1="919" y1="790" x2="1126" y2="997"/><line x1="1126" y1="790" x2="919" y2="997"/><line x1="929" y1="790" x2="1136" y2="997"/><line x1="1136" y1="790" x2="929" y2="997"/><line x1="939" y1="790" x2="1146" y2="997"/><line x1="1146" y1="790" x2="939" y2="997"/><line x1="949" y1="790" x2="1156" y2="997"/><line x1="1156" y1="790" x2="949" y2="997"/><line x1="959" y1="790" x2="1166" y2="997"/><line x1="1166" y1="790" x2="959" y2="997"/><line x1="969" y1="790" x2="1176" y2="997"/><line x1="1176" y1="790" x2="969" y2="997"/><line x1="979" y1="790" x2="1186" y2="997"/><line x1="1186" y1="790" x2="979" y2="997"/><line x1="989" y1="790" x2="1196" y2="997"/><line x1="1196" y1="790" x2="989" y2="997"/><line x1="999" y1="790" x2="1206" y2="997"/><line x1="1206" y1="790" x2="999" y2="997"/><line x1="1009" y1="790" x2="1216" y2="997"/><line x1="1216" y1="790" x2="1009" y2="997"/><line x1="1019" y1="790" x2="1226" y2="997"/><line x1="1226" y1="790" x2="1019" y2="997"/><line x1="1029" y1="790" x2="1236" y2="997"/><line x1="1236" y1="790" x2="1029" y2="997"/><line x1="1039" y1="790" x2="1246" y2="997"/><line x1="1246" y1="790" x2="1039" y2="997"/><line x1="1049" y1="790" x2="1256" y2="997"/><line x1="1256" y1="790" x2="1049" y2="997"/><line x1="1059" y1="790" x2="1266" y2="997"/><line x1="1266" y1="790" x2="1059" y2="997"/><line x1="1069" y1="790" x2="1276" y2="997"/><line x1="1276" y1="790" x2="1069" y2="997"/><line x1="1079" y1="790" x2="1286" y2="997"/><line x1="1286" y1="790" x2="1079" y2="997"/><line x1="1089" y1="790" x2="1296" y2="997"/><line x1="1296" y1="790" x2="1089" y2="997"/><line x1="1099" y1="790" x2="1306" y2="997"/><line x1="1306" y1="790" x2="1099" y2="997"/><line x1="1109" y1="790" x2="1316" y2="997"/><line x1="1316" y1="790" x2="1109" y2="997"/><line x1="1119" y1="790" x2="1326" y2="997"/><line x1="1326" y1="790" x2="1119" y2="997"/><line x1="1129" y1="790" x2="1336" y2="997"/><line x1="1336" y1="790" x2="1129" y2="997"/><line x1="1139" y1="790" x2="1346" y2="997"/><line x1="1346" y1="790" x2="1139" y2="997"/><line x1="1149" y1="790" x2="1356" y2="997"/><line x1="1356" y1="790" x2="1149" y2="997"/><line x1="1159" y1="790" x2="1366" y2="997"/><line x1="1366" y1="790" x2="1159" y2="997"/><line x1="1169" y1="790" x2="1376" y2="997"/><line x1="1376" y1="790" x2="1169" y2="997"/><line x1="1179" y1="790" x2="1386" y2="997"/><line x1="1386" y1="790" x2="1179" y2="997"/><line x1="1189" y1="790" x2="1396" y2="997"/><line x1="1396" y1="790" x2="1189" y2="997"/><line x1="1199" y1="790" x2="1406" y2="997"/><line x1="1406" y1="790" x2="1199" y2="997"/><line x1="1209" y1="790" x2="1416" y2="997"/><line x1="1416" y1="790" x2="1209" y2="997"/><line x1="1219" y1="790" x2="1426" y2="997"/><line x1="1426" y1="790" x2="1219" y2="997"/><line x1="1229" y1="790" x2="1436" y2="997"/><line x1="1436" y1="790" x2="1229" y2="997"/><line x1="1239" y1="790" x2="1446" y2="997"/><line x1="1446" y1="790" x2="1239" y2="997"/><line x1="1249" y1="790" x2="1456" y2="997"/><line x1="1456" y1="790" x2="1249" y2="997"/><line x1="1259" y1="790" x2="1466" y2="997"/><line x1="1466" y1="790" x2="1259" y2="997"/><line x1="1269" y1="790" x2="1476" y2="997"/><line x1="1476" y1="790" x2="1269" y2="997"/><line x1="1279" y1="790" x2="1486" y2="997"/><line x1="1486" y1="790" x2="1279" y2="997"/><line x1="1289" y1="790" x2="1496" y2="997"/><line x1="1496" y1="790" x2="1289" y2="997"/><line x1="1299" y1="790" x2="1506" y2="997"/><line x1="1506" y1="790" x2="1299" y2="997"/><line x1="1309" y1="790" x2="1516" y2="997"/><line x1="1516" y1="790" x2="1309" y2="997"/><line x1="1319" y1="790" x2="1526" y2="997"/><line x1="1526" y1="790" x2="1319" y2="997"/><line x1="1329" y1="790" x2="1536" y2="997"/><line x1="1536" y1="790" x2="1329" y2="997"/><line x1="1339" y1="790" x2="1546" y2="997"/><line x1="1546" y1="790" x2="1339" y2="997"/><line x1="1349" y1="790" x2="1556" y2="997"/><line x1="1556" y1="790" x2="1349" y2="997"/><line x1="1359" y1="790" x2="1566" y2="997"/><line x1="1566" y1="790" x2="1359" y2="997"/><line x1="1369" y1="790" x2="1576" y2="997"/><line x1="1576" y1="790" x2="1369" y2="997"/><line x1="1379" y1="790" x2="1586" y2="997"/><line x1="1586" y1="790" x2="1379" y2="997"/><line x1="1389" y1="790" x2="1596" y2="997"/><line x1="1596" y1="790" x2="1389" y2="997"/><line x1="1399" y1="790" x2="1606" y2="997"/><line x1="1606" y1="790" x2="1399" y2="997"/><line x1="1409" y1="790" x2="1616" y2="997"/><line x1="1616" y1="790" x2="1409" y2="997"/><line x1="1419" y1="790" x2="1626" y2="997"/><line x1="1626" y1="790" x2="1419" y2="997"/><line x1="1429" y1="790" x2="1636" y2="997"/><line x1="1636" y1="790" x2="1429" y2="997"/><line x1="1439" y1="790" x2="1646" y2="997"/><line x1="1646" y1="790" x2="1439" y2="997"/><line x1="1449" y1="790" x2="1656" y2="997"/><line x1="1656" y1="790" x2="1449" y2="997"/><line x1="1459" y1="790" x2="1666" y2="997"/><line x1="1666" y1="790" x2="1459" y2="997"/><line x1="1469" y1="790" x2="1676" y2="997"/><line x1="1676" y1="790" x2="1469" y2="997"/><line x1="1479" y1="790" x2="1686" y2="997"/><line x1="1686" y1="790" x2="1479" y2="997"/><line x1="1489" y1="790" x2="1696" y2="997"/><line x1="1696" y1="790" x2="1489" y2="997"/><line x1="1499" y1="790" x2="1706" y2="997"/><line x1="1706" y1="790" x2="1499" y2="997"/><line x1="1509" y1="790" x2="1716" y2="997"/><line x1="1716" y1="790" x2="1509" y2="997"/><line x1="1519" y1="790" x2="1726" y2="997"/><line x1="1726" y1="790" x2="1519" y2="997"/><line x1="1529" y1="790" x2="1736" y2="997"/><line x1="1736" y1="790" x2="1529" y2="997"/><line x1="1539" y1="790" x2="1746" y2="997"/><line x1="1746" y1="790" x2="1539" y2="997"/><line x1="1549" y1="790" x2="1756" y2="997"/><line x1="1756" y1="790" x2="1549" y2="997"/><line x1="1559" y1="790" x2="1766" y2="997"/><line x1="1766" y1="790" x2="1559" y2="997"/><line x1="1569" y1="790" x2="1776" y2="997"/><line x1="1776" y1="790" x2="1569" y2="997"/><line x1="1579" y1="790" x2="1786" y2="997"/><line x1="1786" y1="790" x2="1579" y2="997"/><line x1="1589" y1="790" x2="1796" y2="997"/><line x1="1796" y1="790" x2="1589" y2="997"/><line x1="1599" y1="790" x2="1806" y2="997"/><line x1="1806" y1="790" x2="1599" y2="997"/><line x1="1609" y1="790" x2="1816" y2="997"/><line x1="1816" y1="790" x2="1609" y2="997"/><line x1="1619" y1="790" x2="1826" y2="997"/><line x1="1826" y1="790" x2="1619" y2="997"/><line x1="1629" y1="790" x2="1836" y2="997"/><line x1="1836" y1="790" x2="1629" y2="997"/><line x1="1639" y1="790" x2="1846" y2="997"/><line x1="1846" y1="790" x2="1639" y2="997"/><line x1="1649" y1="790" x2="1856" y2="997"/><line x1="1856" y1="790" x2="1649" y2="997"/><line x1="1659" y1="790" x2="1866" y2="997"/><line x1="1866" y1="790" x2="1659" y2="997"/><line x1="1669" y1="790" x2="1876" y2="997"/><line x1="1876" y1="790" x2="1669" y2="997"/><line x1="1679" y1="790" x2="1886" y2="997"/><line x1="1886" y1="790" x2="1679" y2="997"/><line x1="1689" y1="790" x2="1896" y2="997"/><line x1="1896" y1="790" x2="1689" y2="997"/><line x1="1699" y1="790" x2="1906" y2="997"/><line x1="1906" y1="790" x2="1699" y2="997"/><line x1="1709" y1="790" x2="1916" y2="997"/><line x1="1916" y1="790" x2="1709" y2="997"/><line x1="1719" y1="790" x2="1926" y2="997"/><line x1="1926" y1="790" x2="1719" y2="997"/><line x1="1729" y1="790" x2="1936" y2="997"/><line x1="1936" y1="790" x2="1729" y2="997"/><line x1="1739" y1="790" x2="1946" y2="997"/><line x1="1946" y1="790" x2="1739" y2="997"/><line x1="1749" y1="790" x2="1956" y2="997"/><line x1="1956" y1="790" x2="1749" y2="997"/><line x1="1759" y1="790" x2="1966" y2="997"/><line x1="1966" y1="790" x2="1759" y2="997"/><line x1="1769" y1="790" x2="1976" y2="997"/><line x1="1976" y1="790" x2="1769" y2="997"/><line x1="1779" y1="790" x2="1986" y2="997"/><line x1="1986" y1="790" x2="1779" y2="997"/><line x1="1789" y1="790" x2="1996" y2="997"/><line x1="1996" y1="790" x2="1789" y2="997"/><line x1="1799" y1="790" x2="2006" y2="997"/><line x1="2006" y1="790" x2="1799" y2="997"/><line x1="1809" y1="790" x2="2016" y2="997"/><line x1="2016" y1="790" x2="1809" y2="997"/><line x1="1819" y1="790" x2="2026" y2="997"/><line x1="2026" y1="790" x2="1819" y2="997"/><line x1="1829" y1="790" x2="2036" y2="997"/><line x1="2036" y1="790" x2="1829" y2="997"/><line x1="1839" y1="790" x2="2046" y2="997"/><line x1="2046" y1="790" x2="1839" y2="997"/><line x1="1849" y1="790" x2="2056" y2="997"/><line x1="2056" y1="790" x2="1849" y2="997"/><line x1="1859" y1="790" x2="2066" y2="997"/><line x1="2066" y1="790" x2="1859" y2="997"/><line x1="1869" y1="790" x2="2076" y2="997"/><line x1="2076" y1="790" x2="1869" y2="997"/><line x1="1879" y1="790" x2="2086" y2="997"/><line x1="2086" y1="790" x2="1879" y2="997"/><line x1="1889" y1="790" x2="2096" y2="997"/><line x1="2096" y1="790" x2="1889" y2="997"/></g>
<g clip-path="url(#chb)" stroke="#20242a" stroke-width="1.8">
<line x1="300.0" y1="997" x2="310.0" y2="980"/>
<line x1="308.5" y1="997" x2="318.5" y2="980"/>
<line x1="317.0" y1="997" x2="327.0" y2="980"/>
<line x1="325.5" y1="997" x2="335.5" y2="980"/>
<line x1="334.0" y1="997" x2="344.0" y2="980"/>
<line x1="342.5" y1="997" x2="352.5" y2="980"/>
<line x1="351.0" y1="997" x2="361.0" y2="980"/>
<line x1="359.5" y1="997" x2="369.5" y2="980"/>
<line x1="368.0" y1="997" x2="378.0" y2="980"/>
<line x1="376.5" y1="997" x2="386.5" y2="980"/>
<line x1="385.0" y1="997" x2="395.0" y2="980"/>
<line x1="393.5" y1="997" x2="403.5" y2="980"/>
<line x1="402.0" y1="997" x2="412.0" y2="980"/>
<line x1="410.5" y1="997" x2="420.5" y2="980"/>
<line x1="419.0" y1="997" x2="429.0" y2="980"/>
<line x1="427.5" y1="997" x2="437.5" y2="980"/>
<line x1="436.0" y1="997" x2="446.0" y2="980"/>
<line x1="444.5" y1="997" x2="454.5" y2="980"/>
<line x1="453.0" y1="997" x2="463.0" y2="980"/>
<line x1="461.5" y1="997" x2="471.5" y2="980"/>
<line x1="470.0" y1="997" x2="480.0" y2="980"/>
<line x1="478.5" y1="997" x2="488.5" y2="980"/>
<line x1="487.0" y1="997" x2="497.0" y2="980"/>
<line x1="495.5" y1="997" x2="505.5" y2="980"/>
<line x1="504.0" y1="997" x2="514.0" y2="980"/>
<line x1="512.5" y1="997" x2="522.5" y2="980"/>
<line x1="521.0" y1="997" x2="531.0" y2="980"/>
<line x1="529.5" y1="997" x2="539.5" y2="980"/>
<line x1="538.0" y1="997" x2="548.0" y2="980"/>
<line x1="546.5" y1="997" x2="556.5" y2="980"/>
<line x1="555.0" y1="997" x2="565.0" y2="980"/>
<line x1="563.5" y1="997" x2="573.5" y2="980"/>
<line x1="572.0" y1="997" x2="582.0" y2="980"/>
<line x1="580.5" y1="997" x2="590.5" y2="980"/>
<line x1="589.0" y1="997" x2="599.0" y2="980"/>
<line x1="597.5" y1="997" x2="607.5" y2="980"/>
<line x1="606.0" y1="997" x2="616.0" y2="980"/>
<line x1="614.5" y1="997" x2="624.5" y2="980"/>
<line x1="623.0" y1="997" x2="633.0" y2="980"/>
<line x1="631.5" y1="997" x2="641.5" y2="980"/>
<line x1="640.0" y1="997" x2="650.0" y2="980"/>
<line x1="648.5" y1="997" x2="658.5" y2="980"/>
<line x1="657.0" y1="997" x2="667.0" y2="980"/>
<line x1="665.5" y1="997" x2="675.5" y2="980"/>
<line x1="674.0" y1="997" x2="684.0" y2="980"/>
<line x1="682.5" y1="997" x2="692.5" y2="980"/>
<line x1="691.0" y1="997" x2="701.0" y2="980"/>
<line x1="699.5" y1="997" x2="709.5" y2="980"/>
<line x1="708.0" y1="997" x2="718.0" y2="980"/>
<line x1="716.5" y1="997" x2="726.5" y2="980"/>
<line x1="725.0" y1="997" x2="735.0" y2="980"/>
<line x1="733.5" y1="997" x2="743.5" y2="980"/>
<line x1="742.0" y1="997" x2="752.0" y2="980"/>
<line x1="750.5" y1="997" x2="760.5" y2="980"/>
<line x1="759.0" y1="997" x2="769.0" y2="980"/>
<line x1="767.5" y1="997" x2="777.5" y2="980"/>
<line x1="776.0" y1="997" x2="786.0" y2="980"/>
<line x1="784.5" y1="997" x2="794.5" y2="980"/>
<line x1="793.0" y1="997" x2="803.0" y2="980"/>
<line x1="801.5" y1="997" x2="811.5" y2="980"/>
<line x1="810.0" y1="997" x2="820.0" y2="980"/>
<line x1="818.5" y1="997" x2="828.5" y2="980"/>
<line x1="827.0" y1="997" x2="837.0" y2="980"/>
<line x1="835.5" y1="997" x2="845.5" y2="980"/>
<line x1="844.0" y1="997" x2="854.0" y2="980"/>
<line x1="852.5" y1="997" x2="862.5" y2="980"/>
<line x1="861.0" y1="997" x2="871.0" y2="980"/>
<line x1="869.5" y1="997" x2="879.5" y2="980"/>
<line x1="878.0" y1="997" x2="888.0" y2="980"/>
<line x1="886.5" y1="997" x2="896.5" y2="980"/>
<line x1="895.0" y1="997" x2="905.0" y2="980"/>
<line x1="903.5" y1="997" x2="913.5" y2="980"/>
<line x1="912.0" y1="997" x2="922.0" y2="980"/>
<line x1="920.5" y1="997" x2="930.5" y2="980"/>
<line x1="929.0" y1="997" x2="939.0" y2="980"/>
<line x1="937.5" y1="997" x2="947.5" y2="980"/>
<line x1="946.0" y1="997" x2="956.0" y2="980"/>
<line x1="954.5" y1="997" x2="964.5" y2="980"/>
<line x1="963.0" y1="997" x2="973.0" y2="980"/>
<line x1="971.5" y1="997" x2="981.5" y2="980"/>
</g>
<g fill="none" stroke="#2f3338" stroke-width="1.8">
<path d="M295,789 H315 V980.5 H906 V790 H927 V1027.5 H295 Z"/>
<line x1="295" y1="997" x2="927" y2="997"/>
</g>
</g>
<g fill="none" stroke="#1c2a80" stroke-width="4.1" stroke-linecap="round" stroke-linejoin="round">
<path d="M320.5,900.1 C324.0,899.1 335.9,894.6 341.4,894.2 C346.9,893.9 348.8,896.6 353.4,898.0 C357.9,899.4 364.9,902.6 368.7,902.3 C372.5,902.0 373.5,898.3 376.4,896.3 C379.2,894.3 381.8,890.6 385.8,890.3 C389.8,890.0 394.7,892.9 400.3,894.6 C405.9,896.3 414.2,900.6 419.4,900.6 C424.6,900.6 427.2,896.4 431.3,894.6 C435.4,892.8 440.8,889.9 444.1,889.9 C447.4,889.9 448.2,892.4 450.9,894.6 C453.6,896.8 457.2,902.7 460.3,903.1 C463.4,903.5 466.6,898.7 469.7,897.2 C472.8,895.7 476.4,894.3 479.0,894.2 C481.6,894.1 482.9,895.6 485.0,896.7 C487.1,897.8 488.5,900.5 491.8,900.6 C495.1,900.7 501.1,898.1 505.0,897.3 C508.9,896.5 512.9,895.7 515.2,896.0 C517.5,896.3 517.6,897.5 518.6,899.0 C519.6,900.5 517.8,905.0 521.2,905.0 C524.6,905.0 533.3,899.9 539.1,899.0 C544.9,898.1 551.0,901.1 556.2,899.8 C561.5,898.4 566.8,891.3 570.6,890.9 C574.4,890.5 576.4,895.2 579.2,897.3 C582.1,899.4 584.2,903.5 587.7,903.7 C591.2,903.9 596.2,900.1 600.0,898.6 C603.8,897.1 605.9,894.5 610.2,894.7 C614.5,894.9 621.2,898.3 625.6,899.8 C630.0,901.3 632.4,904.8 636.7,903.7 C641.0,902.6 647.4,894.5 651.2,893.4 C655.0,892.3 656.9,896.1 659.7,897.3 C662.5,898.4 664.7,900.9 668.2,900.3 C671.8,899.6 677.5,895.0 681.0,893.4 C684.5,891.8 687.4,890.7 689.5,890.9 C691.6,891.1 692.0,893.6 693.8,894.7 C695.5,895.8 696.0,897.4 700.0,897.3 C704.0,897.2 713.7,894.3 718.0,894.3 C722.3,894.3 723.0,895.7 725.7,897.3 C728.4,898.9 730.8,903.5 734.2,904.1 C737.6,904.7 741.8,902.0 746.2,901.1 C750.6,900.2 756.4,898.5 760.6,898.6 C764.9,898.7 768.4,900.6 771.7,901.5 C775.0,902.4 776.4,903.5 780.3,903.7 C784.2,903.9 791.4,903.2 795.0,902.8 C798.6,902.3 799.2,902.6 802.0,901.0 C804.8,899.4 808.2,896.0 811.7,893.3 C815.2,890.6 819.5,885.6 823.0,885.0 C826.5,884.4 828.4,886.7 833.0,889.4 C837.6,892.1 845.6,900.3 850.4,901.2 C855.2,902.1 858.4,896.3 861.6,894.6 C864.8,892.9 863.8,889.7 869.8,891.0 C875.8,892.3 892.8,900.3 897.4,902.2" transform="translate(0 0)"/>
<path d="M320.5,900.1 C324.0,899.1 335.9,894.6 341.4,894.2 C346.9,893.9 348.8,896.6 353.4,898.0 C357.9,899.4 364.9,902.6 368.7,902.3 C372.5,902.0 373.5,898.3 376.4,896.3 C379.2,894.3 381.8,890.6 385.8,890.3 C389.8,890.0 394.7,892.9 400.3,894.6 C405.9,896.3 414.2,900.6 419.4,900.6 C424.6,900.6 427.2,896.4 431.3,894.6 C435.4,892.8 440.8,889.9 444.1,889.9 C447.4,889.9 448.2,892.4 450.9,894.6 C453.6,896.8 457.2,902.7 460.3,903.1 C463.4,903.5 466.6,898.7 469.7,897.2 C472.8,895.7 476.4,894.3 479.0,894.2 C481.6,894.1 482.9,895.6 485.0,896.7 C487.1,897.8 488.5,900.5 491.8,900.6 C495.1,900.7 501.1,898.1 505.0,897.3 C508.9,896.5 512.9,895.7 515.2,896.0 C517.5,896.3 517.6,897.5 518.6,899.0 C519.6,900.5 517.8,905.0 521.2,905.0 C524.6,905.0 533.3,899.9 539.1,899.0 C544.9,898.1 551.0,901.1 556.2,899.8 C561.5,898.4 566.8,891.3 570.6,890.9 C574.4,890.5 576.4,895.2 579.2,897.3 C582.1,899.4 584.2,903.5 587.7,903.7 C591.2,903.9 596.2,900.1 600.0,898.6 C603.8,897.1 605.9,894.5 610.2,894.7 C614.5,894.9 621.2,898.3 625.6,899.8 C630.0,901.3 632.4,904.8 636.7,903.7 C641.0,902.6 647.4,894.5 651.2,893.4 C655.0,892.3 656.9,896.1 659.7,897.3 C662.5,898.4 664.7,900.9 668.2,900.3 C671.8,899.6 677.5,895.0 681.0,893.4 C684.5,891.8 687.4,890.7 689.5,890.9 C691.6,891.1 692.0,893.6 693.8,894.7 C695.5,895.8 696.0,897.4 700.0,897.3 C704.0,897.2 713.7,894.3 718.0,894.3 C722.3,894.3 723.0,895.7 725.7,897.3 C728.4,898.9 730.8,903.5 734.2,904.1 C737.6,904.7 741.8,902.0 746.2,901.1 C750.6,900.2 756.4,898.5 760.6,898.6 C764.9,898.7 768.4,900.6 771.7,901.5 C775.0,902.4 776.4,903.5 780.3,903.7 C784.2,903.9 791.4,903.2 795.0,902.8 C798.6,902.3 799.2,902.6 802.0,901.0 C804.8,899.4 808.2,896.0 811.7,893.3 C815.2,890.6 819.5,885.6 823.0,885.0 C826.5,884.4 828.4,886.7 833.0,889.4 C837.6,892.1 845.6,900.3 850.4,901.2 C855.2,902.1 858.4,896.3 861.6,894.6 C864.8,892.9 863.8,889.7 869.8,891.0 C875.8,892.3 892.8,900.3 897.4,902.2" transform="translate(0 16.9)"/>
<path d="M320.5,900.1 C324.0,899.1 335.9,894.6 341.4,894.2 C346.9,893.9 348.8,896.6 353.4,898.0 C357.9,899.4 364.9,902.6 368.7,902.3 C372.5,902.0 373.5,898.3 376.4,896.3 C379.2,894.3 381.8,890.6 385.8,890.3 C389.8,890.0 394.7,892.9 400.3,894.6 C405.9,896.3 414.2,900.6 419.4,900.6 C424.6,900.6 427.2,896.4 431.3,894.6 C435.4,892.8 440.8,889.9 444.1,889.9 C447.4,889.9 448.2,892.4 450.9,894.6 C453.6,896.8 457.2,902.7 460.3,903.1 C463.4,903.5 466.6,898.7 469.7,897.2 C472.8,895.7 476.4,894.3 479.0,894.2 C481.6,894.1 482.9,895.6 485.0,896.7 C487.1,897.8 488.5,900.5 491.8,900.6 C495.1,900.7 501.1,898.1 505.0,897.3 C508.9,896.5 512.9,895.7 515.2,896.0 C517.5,896.3 517.6,897.5 518.6,899.0 C519.6,900.5 517.8,905.0 521.2,905.0 C524.6,905.0 533.3,899.9 539.1,899.0 C544.9,898.1 551.0,901.1 556.2,899.8 C561.5,898.4 566.8,891.3 570.6,890.9 C574.4,890.5 576.4,895.2 579.2,897.3 C582.1,899.4 584.2,903.5 587.7,903.7 C591.2,903.9 596.2,900.1 600.0,898.6 C603.8,897.1 605.9,894.5 610.2,894.7 C614.5,894.9 621.2,898.3 625.6,899.8 C630.0,901.3 632.4,904.8 636.7,903.7 C641.0,902.6 647.4,894.5 651.2,893.4 C655.0,892.3 656.9,896.1 659.7,897.3 C662.5,898.4 664.7,900.9 668.2,900.3 C671.8,899.6 677.5,895.0 681.0,893.4 C684.5,891.8 687.4,890.7 689.5,890.9 C691.6,891.1 692.0,893.6 693.8,894.7 C695.5,895.8 696.0,897.4 700.0,897.3 C704.0,897.2 713.7,894.3 718.0,894.3 C722.3,894.3 723.0,895.7 725.7,897.3 C728.4,898.9 730.8,903.5 734.2,904.1 C737.6,904.7 741.8,902.0 746.2,901.1 C750.6,900.2 756.4,898.5 760.6,898.6 C764.9,898.7 768.4,900.6 771.7,901.5 C775.0,902.4 776.4,903.5 780.3,903.7 C784.2,903.9 791.4,903.2 795.0,902.8 C798.6,902.3 799.2,902.6 802.0,901.0 C804.8,899.4 808.2,896.0 811.7,893.3 C815.2,890.6 819.5,885.6 823.0,885.0 C826.5,884.4 828.4,886.7 833.0,889.4 C837.6,892.1 845.6,900.3 850.4,901.2 C855.2,902.1 858.4,896.3 861.6,894.6 C864.8,892.9 863.8,889.7 869.8,891.0 C875.8,892.3 892.8,900.3 897.4,902.2" transform="translate(0 31.4)"/>
<path d="M320.5,900.1 C324.0,899.1 335.9,894.6 341.4,894.2 C346.9,893.9 348.8,896.6 353.4,898.0 C357.9,899.4 364.9,902.6 368.7,902.3 C372.5,902.0 373.5,898.3 376.4,896.3 C379.2,894.3 381.8,890.6 385.8,890.3 C389.8,890.0 394.7,892.9 400.3,894.6 C405.9,896.3 414.2,900.6 419.4,900.6 C424.6,900.6 427.2,896.4 431.3,894.6 C435.4,892.8 440.8,889.9 444.1,889.9 C447.4,889.9 448.2,892.4 450.9,894.6 C453.6,896.8 457.2,902.7 460.3,903.1 C463.4,903.5 466.6,898.7 469.7,897.2 C472.8,895.7 476.4,894.3 479.0,894.2 C481.6,894.1 482.9,895.6 485.0,896.7 C487.1,897.8 488.5,900.5 491.8,900.6 C495.1,900.7 501.1,898.1 505.0,897.3 C508.9,896.5 512.9,895.7 515.2,896.0 C517.5,896.3 517.6,897.5 518.6,899.0 C519.6,900.5 517.8,905.0 521.2,905.0 C524.6,905.0 533.3,899.9 539.1,899.0 C544.9,898.1 551.0,901.1 556.2,899.8 C561.5,898.4 566.8,891.3 570.6,890.9 C574.4,890.5 576.4,895.2 579.2,897.3 C582.1,899.4 584.2,903.5 587.7,903.7 C591.2,903.9 596.2,900.1 600.0,898.6 C603.8,897.1 605.9,894.5 610.2,894.7 C614.5,894.9 621.2,898.3 625.6,899.8 C630.0,901.3 632.4,904.8 636.7,903.7 C641.0,902.6 647.4,894.5 651.2,893.4 C655.0,892.3 656.9,896.1 659.7,897.3 C662.5,898.4 664.7,900.9 668.2,900.3 C671.8,899.6 677.5,895.0 681.0,893.4 C684.5,891.8 687.4,890.7 689.5,890.9 C691.6,891.1 692.0,893.6 693.8,894.7 C695.5,895.8 696.0,897.4 700.0,897.3 C704.0,897.2 713.7,894.3 718.0,894.3 C722.3,894.3 723.0,895.7 725.7,897.3 C728.4,898.9 730.8,903.5 734.2,904.1 C737.6,904.7 741.8,902.0 746.2,901.1 C750.6,900.2 756.4,898.5 760.6,898.6 C764.9,898.7 768.4,900.6 771.7,901.5 C775.0,902.4 776.4,903.5 780.3,903.7 C784.2,903.9 791.4,903.2 795.0,902.8 C798.6,902.3 799.2,902.6 802.0,901.0 C804.8,899.4 808.2,896.0 811.7,893.3 C815.2,890.6 819.5,885.6 823.0,885.0 C826.5,884.4 828.4,886.7 833.0,889.4 C837.6,892.1 845.6,900.3 850.4,901.2 C855.2,902.1 858.4,896.3 861.6,894.6 C864.8,892.9 863.8,889.7 869.8,891.0 C875.8,892.3 892.8,900.3 897.4,902.2" transform="translate(0 48.5)"/>
<path d="M320.5,900.1 C324.0,899.1 335.9,894.6 341.4,894.2 C346.9,893.9 348.8,896.6 353.4,898.0 C357.9,899.4 364.9,902.6 368.7,902.3 C372.5,902.0 373.5,898.3 376.4,896.3 C379.2,894.3 381.8,890.6 385.8,890.3 C389.8,890.0 394.7,892.9 400.3,894.6 C405.9,896.3 414.2,900.6 419.4,900.6 C424.6,900.6 427.2,896.4 431.3,894.6 C435.4,892.8 440.8,889.9 444.1,889.9 C447.4,889.9 448.2,892.4 450.9,894.6 C453.6,896.8 457.2,902.7 460.3,903.1 C463.4,903.5 466.6,898.7 469.7,897.2 C472.8,895.7 476.4,894.3 479.0,894.2 C481.6,894.1 482.9,895.6 485.0,896.7 C487.1,897.8 488.5,900.5 491.8,900.6 C495.1,900.7 501.1,898.1 505.0,897.3 C508.9,896.5 512.9,895.7 515.2,896.0 C517.5,896.3 517.6,897.5 518.6,899.0 C519.6,900.5 517.8,905.0 521.2,905.0 C524.6,905.0 533.3,899.9 539.1,899.0 C544.9,898.1 551.0,901.1 556.2,899.8 C561.5,898.4 566.8,891.3 570.6,890.9 C574.4,890.5 576.4,895.2 579.2,897.3 C582.1,899.4 584.2,903.5 587.7,903.7 C591.2,903.9 596.2,900.1 600.0,898.6 C603.8,897.1 605.9,894.5 610.2,894.7 C614.5,894.9 621.2,898.3 625.6,899.8 C630.0,901.3 632.4,904.8 636.7,903.7 C641.0,902.6 647.4,894.5 651.2,893.4 C655.0,892.3 656.9,896.1 659.7,897.3 C662.5,898.4 664.7,900.9 668.2,900.3 C671.8,899.6 677.5,895.0 681.0,893.4 C684.5,891.8 687.4,890.7 689.5,890.9 C691.6,891.1 692.0,893.6 693.8,894.7 C695.5,895.8 696.0,897.4 700.0,897.3 C704.0,897.2 713.7,894.3 718.0,894.3 C722.3,894.3 723.0,895.7 725.7,897.3 C728.4,898.9 730.8,903.5 734.2,904.1 C737.6,904.7 741.8,902.0 746.2,901.1 C750.6,900.2 756.4,898.5 760.6,898.6 C764.9,898.7 768.4,900.6 771.7,901.5 C775.0,902.4 776.4,903.5 780.3,903.7 C784.2,903.9 791.4,903.2 795.0,902.8 C798.6,902.3 799.2,902.6 802.0,901.0 C804.8,899.4 808.2,896.0 811.7,893.3 C815.2,890.6 819.5,885.6 823.0,885.0 C826.5,884.4 828.4,886.7 833.0,889.4 C837.6,892.1 845.6,900.3 850.4,901.2 C855.2,902.1 858.4,896.3 861.6,894.6 C864.8,892.9 863.8,889.7 869.8,891.0 C875.8,892.3 892.8,900.3 897.4,902.2" transform="translate(0 66.8)"/>
</g>
<g fill="#1c8340">
<path d="M133.2,830.6 H219.6 V814.2 L276.9,842.3 L219.6,870.5 V853.1 H133.2 Z"/>
<path d="M935.3,822.3 L993.7,794.7 V811 H1079.2 V833.6 H993.7 V849.9 Z"/>
<path d="M416.4,861.8 L425.2,879.3 C455,879 480,868 499.6,846.2 L514.6,855.7 L523.5,797 L472.3,823.7 L483.9,834.6 C470,848 445,858 416.4,861.8 Z"/>
<path d="M660.5,797 L711.6,824.3 L699.3,834.6 C715,850 735,860 766.9,862.5 L758.7,880.3 C728,880 703,868 685,846.8 L668.6,857.1 Z"/>
</g>
<g stroke="#2f3338" stroke-width="1.5" fill="none">
<line x1="800" y1="854" x2="985" y2="849"/>
<line x1="800" y1="858.2" x2="985" y2="852.4"/>
<line x1="800" y1="862.3" x2="985" y2="855.8"/>
<line x1="800" y1="866.3" x2="985" y2="859.2"/>
</g>
<g stroke="#2f3338" stroke-width="1.8" fill="none">
<circle cx="801.4" cy="890" r="19.1"/>
<polyline points="594.6,1076.4 751.4,1076.4 797.6,919"/>
<path d="M946.2,899.8 H984.5 Q990.9,899.8 990.9,906 V934 Q990.9,940.4 984.5,940.4 H944 Q937.8,940.4 937.8,934 V906 Q937.8,899.8 944,899.8 Z" fill="#fff"/>
<line x1="938.5" y1="905.4" x2="990.4" y2="905.4"/>
<path d="M906,947.2 H942 L946.5,941.6 H985.3 L991.9,950 V963.8 L980.8,972.6 H906" fill="#fff"/>
<path d="M906,947.7 H975 Q983.6,947.7 983.6,957 Q983.6,966.5 975,966.5 H906"/>
</g>
<g stroke="#2f3338" stroke-width="1.8" fill="none">
<polyline points="89.6,395.4 199.4,395.4 401.8,444.2"/>
<polyline points="90,469 199.4,469 453.2,510.7"/>
<polyline points="91.4,557.3 210,557.3 305.5,601.5"/>
<polyline points="90,665 245.5,665 450,725.8"/>
<polyline points="1089.5,331.6 1008,331.6 918.8,378.5"/>
<polyline points="108.4,1004.3 213.8,1004.3 293.6,922.5"/>
<polyline points="995.4,939 1047.2,983.2 1129.8,983.2"/>
</g>
<g fill="#262729" font-size="22.5" font-weight="bold" font-family="Liberation Sans, sans-serif">
<text x="540.2" y="48.0" textLength="155.6" lengthAdjust="spacing">换热空气出口</text>
<text x="30.4" y="374.6" textLength="129.5" lengthAdjust="spacing">喷淋水系统</text>
<text x="31.4" y="455.8" textLength="155.7" lengthAdjust="spacing">气态冷剂进口</text>
<text x="23.4" y="515.6" textLength="155.7" lengthAdjust="spacing">椭圆型双纵肋</text>
<text x="18.8" y="545.3" textLength="203.0" lengthAdjust="spacing">翅片式铝合金集管</text>
<text x="31.1" y="648.5" textLength="155.7" lengthAdjust="spacing">液态冷剂出口</text>
<text x="1007.1" y="319.9" textLength="74.7" lengthAdjust="spacing">脱水器</text>
<text x="551.7" y="876.6" textLength="76.3" lengthAdjust="spacing">集水槽</text>
<text x="106.6" y="993.9" textLength="101.8" lengthAdjust="spacing">导风格栅</text>
<text x="630.6" y="1066.8" textLength="101.2" lengthAdjust="spacing">水浮球阀</text>
<text x="1039.1" y="966.9" textLength="101.5" lengthAdjust="spacing">循环水泵</text>
<text x="76" y="795.6">新</text>
<text x="76" y="836.0">风</text>
<text x="76" y="871.8">入</text>
<text x="76" y="912.7">口</text>
<text x="1083.3" y="761.4">新</text>
<text x="1083.3" y="800.1">风</text>
<text x="1083.3" y="838.0">入</text>
<text x="1083.3" y="877.9">口</text>
</g>
<path d="M15,637.5 Q18,636 20,637.5 Q22,639 24,637.5" fill="none" stroke="#888" stroke-width="1.2"/>
<path d="M1137,381 Q1143,382 1142,386 Q1140,388 1136,388" fill="none" stroke="#d8d8d8" stroke-width="1.3"/>
<circle cx="82.5" cy="882.8" r="1" fill="#bbb"/>
</svg></body></html>
